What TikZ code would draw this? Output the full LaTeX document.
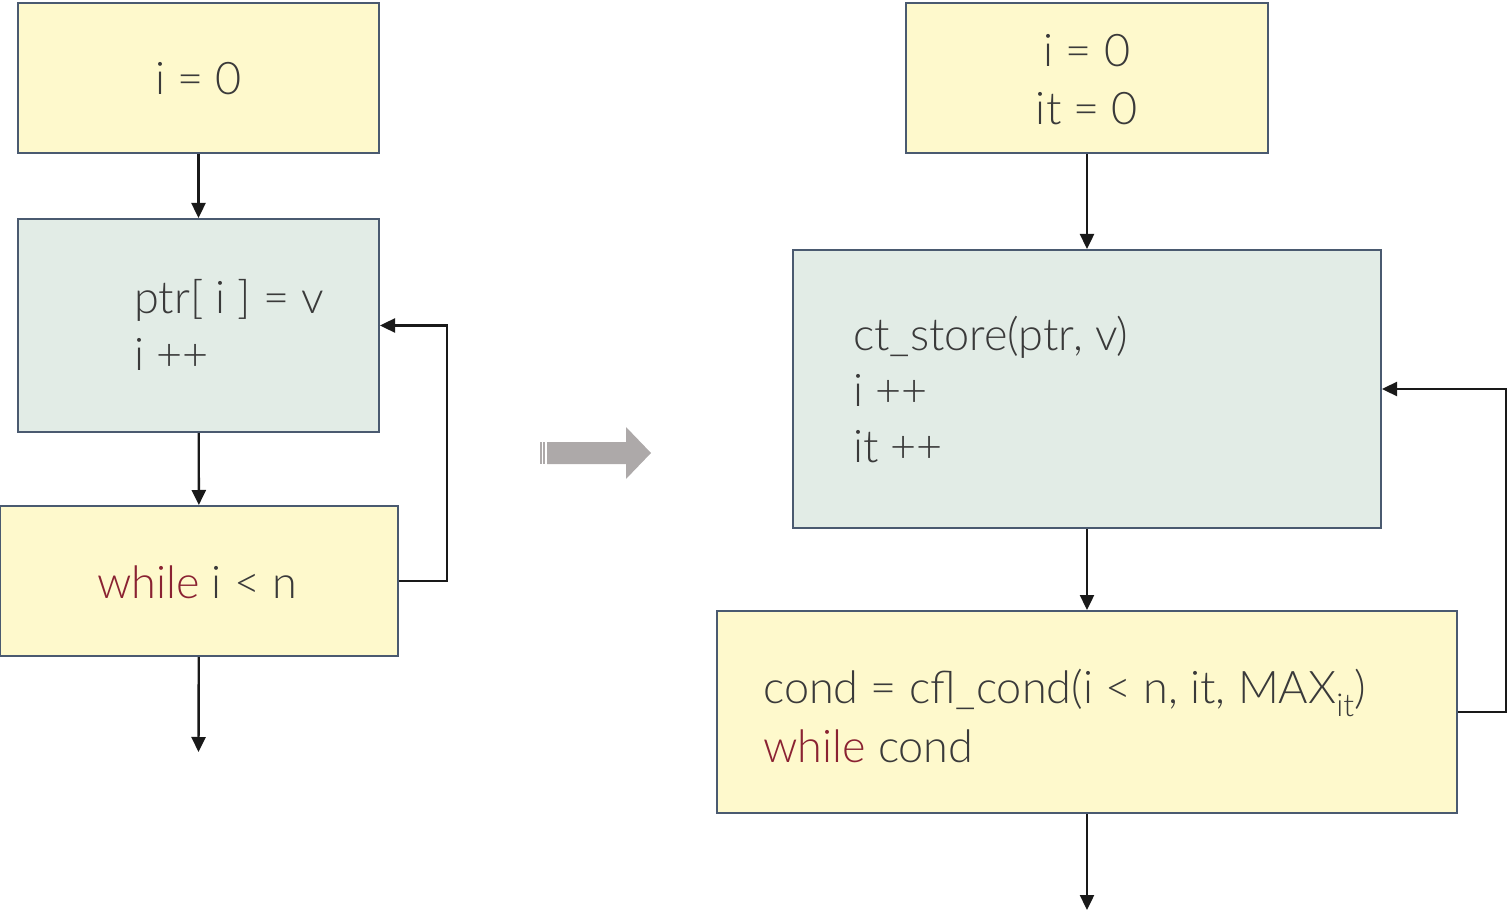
\documentclass[tikz,border=0pt]{standalone}
\usepackage{fontspec}
\setmainfont{Lato Light}
\usetikzlibrary{arrows.meta,positioning}

\definecolor{boxyellow}{HTML}{FEF9CC}
\definecolor{boxgreen}{HTML}{E2ECE6}
\definecolor{boxline}{HTML}{4A5A70}
\definecolor{codetext}{HTML}{3A3A3A}
\definecolor{keyword}{HTML}{8A2232}
\definecolor{shiftgray}{HTML}{ADA9A9}

\tikzset{
  stagebox/.style={draw=boxline, line width=2pt, inner sep=0pt},
  initbox/.style={stagebox, fill=boxyellow},
  loopbox/.style={stagebox, fill=boxgreen},
  % multi-line code: base anchor sits on the last line
  code/.style={text=codetext, inner sep=0pt, anchor=base west,
    font=\fontsize{45}{57}\selectfont, align=left},
  flow/.style={line width=2.4pt, black!90, -{Triangle[length=15pt,width=14pt]}},
}
\newcommand{\kw}[1]{\textcolor{keyword}{#1}}

\begin{document}
\begin{tikzpicture}[x=1pt, y=-1pt]
  \useasboundingbox (0,0) rectangle (1508,912);

  % plain loop
  \node[initbox, minimum width=361, minimum height=150] (init) at (198.5,78) {};
  \node[loopbox, minimum width=361, minimum height=213] (body) at (198.5,325.5) {};
  \node[initbox, minimum width=398, minimum height=150] (test) at (199,581) {};
  \coordinate (out) at (198.5,752);

  \node[code, anchor=base] (initT) at (198.5,95) {i = 0};
  \node[code] (bodyT) at (134,370) {ptr[ i ] = v\\i ++};
  \node[code] (testT) at (97,598) {\kw{while} i < n};

  \draw[flow] (init) -- (body);
  \draw[flow] (body) -- (test);
  \draw[flow] (test) -- (out);
  \draw[flow] (test.east) -- ++(48,0) |- (body.east);

  % transformation arrow
  \fill[shiftgray] (547,442) -- (626,442) -- (626,427) -- (651,453)
    -- (626,479) -- (626,464) -- (547,464) -- cycle;
  \fill[shiftgray] (540,442) rectangle (542,464);
  \fill[shiftgray] (543,442) rectangle (545,464);

  % loop with iteration counter
  \node[initbox, minimum width=362, minimum height=150] (cinit) at (1087,78) {};
  \node[loopbox, minimum width=588, minimum height=278] (cbody) at (1087,389) {};
  \node[initbox, minimum width=740, minimum height=202] (ctest) at (1087,712) {};
  \coordinate (cout) at (1087,910);

  \node[code, anchor=base, align=center, font=\fontsize{45}{58}\selectfont]
    (cinitT) at (1087,125) {i = 0\\it = 0};
  \node[code, font=\fontsize{45}{56}\selectfont] (cbodyT) at (853,462)
    {ct\_store(ptr, v)\\i ++\\it ++};
  \node[code, font=\fontsize{45}{59}\selectfont] (ctestT) at (763,762)
    {cond = cfl\_cond(i < n, it, MAX\textsubscript{it})\\\kw{while} cond};

  \draw[flow] (cinit) -- (cbody);
  \draw[flow] (cbody) -- (ctest);
  \draw[flow] (ctest) -- (cout);
  \draw[flow] (ctest.east) -- ++(48,0) |- (cbody.east);
\end{tikzpicture}
\end{document}
